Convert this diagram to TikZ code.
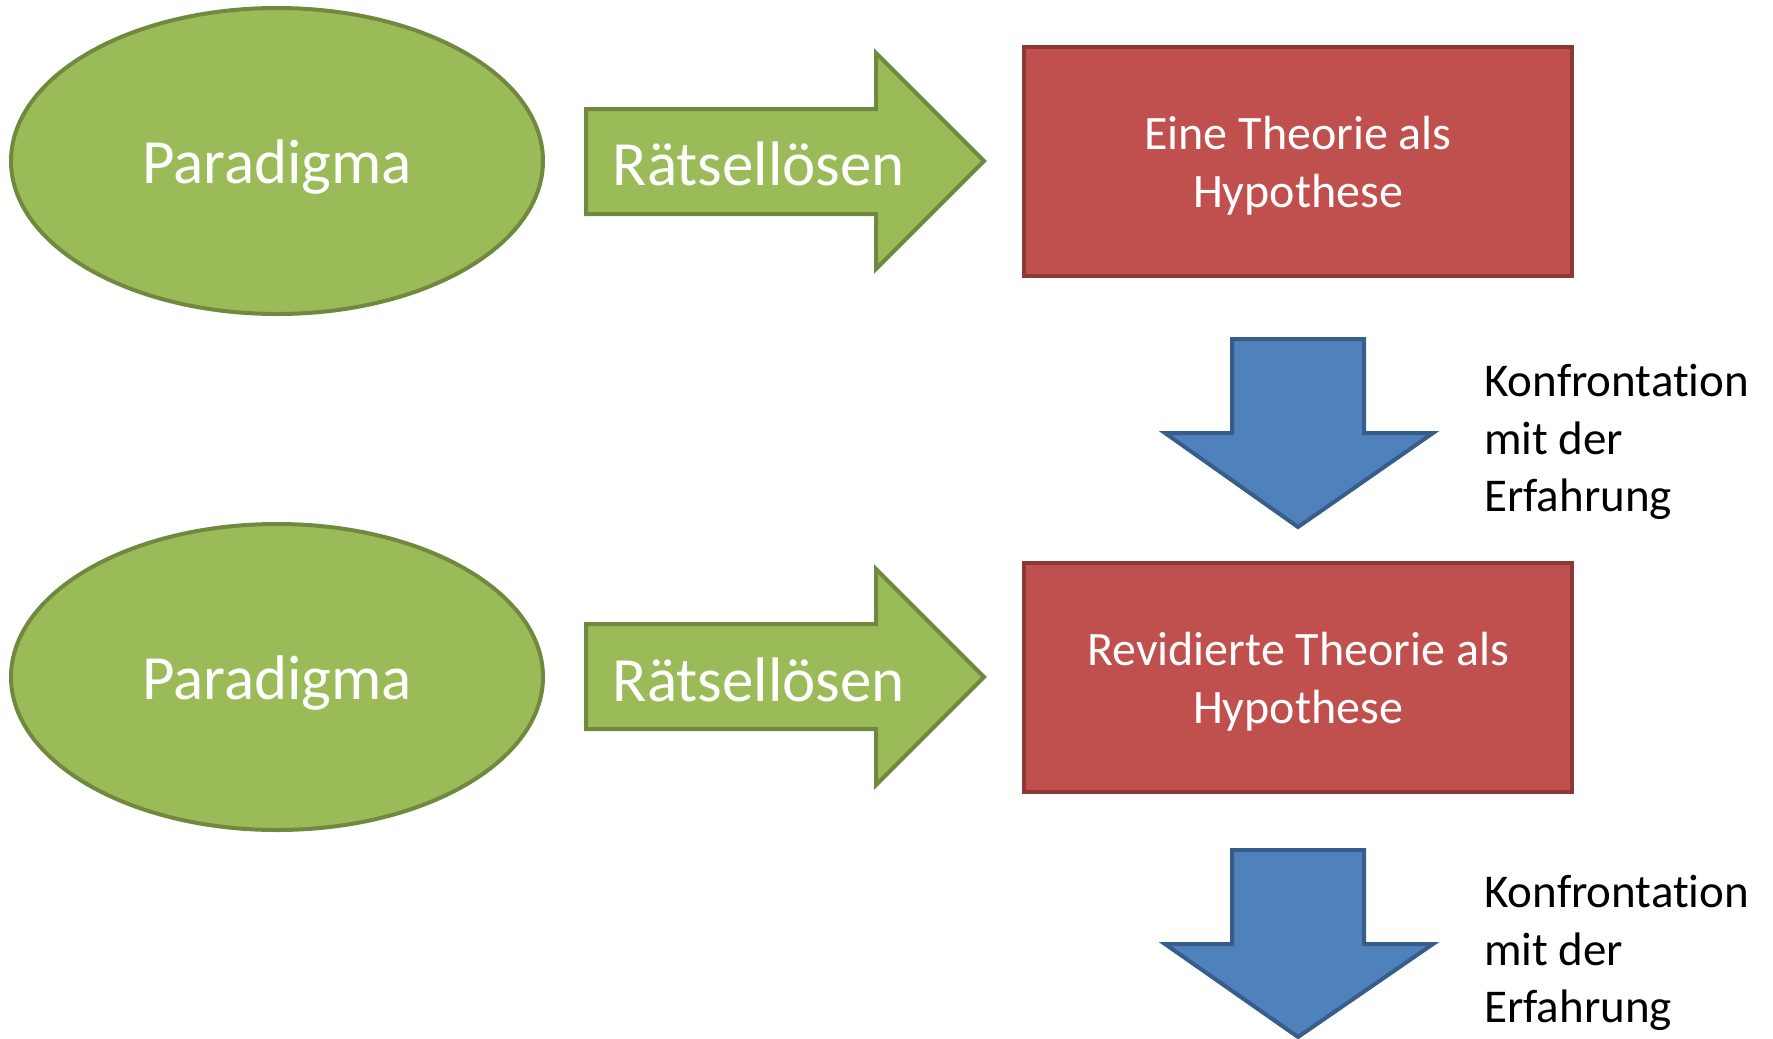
\documentclass[tikz,border=0pt]{standalone}
\usepackage{fontspec}
\setmainfont{Carlito}[Ligatures=NoCommon, RawFeature={-calt}]
\usetikzlibrary{shapes.geometric}
\definecolor{gfill}{HTML}{9BBB59}
\definecolor{gline}{HTML}{71893F}
\definecolor{rfill}{HTML}{C0504D}
\definecolor{rline}{HTML}{8C3836}
\definecolor{bfill}{HTML}{4F81BD}
\definecolor{bline}{HTML}{385D8A}
\tikzset{
  paradigm/.style={ellipse, draw=gline, fill=gfill, line width=4pt,
    minimum width=532pt, minimum height=306pt, inner sep=0pt},
  bigtext/.style={text=white, font=\fontsize{63}{75}\selectfont, inner sep=0pt},
  greenarrow/.style={draw=gline, fill=gfill, line width=4pt, line join=miter},
  bluearrow/.style={draw=bline, fill=bfill, line width=4pt, line join=miter},
  theorybox/.style={rectangle, draw=rline, fill=rfill, line width=4pt,
    minimum width=548pt, minimum height=229pt, inner sep=0pt},
  theorytext/.style={align=center, inner sep=0pt, text=white,
    font=\fontsize{48}{58}\selectfont},
  sidenote/.style={anchor=west, align=left, inner sep=0pt,
    font=\fontsize{47}{57.5}\selectfont}
}
\begin{document}
\begin{tikzpicture}[x=1pt,y=-1pt]
\useasboundingbox (0,0) rectangle (1773,1039);

% upper row
\node[paradigm] (par1) at (277,161) {};
\node[bigtext] (par1t) at (277,167) {Paradigma};
\draw[greenarrow] (586,109) -- (876,109) -- (876,53) -- (984,161)
  -- (876,269) -- (876,214) -- (586,214) -- cycle;
\node[bigtext] (loes1) at (759,164) {Rätsellösen};
\node[theorybox] (theo1) at (1298,161) {};
\node[theorytext] (theo1t) at (1298,166) {Eine Theorie als\\Hypothese};

% first confrontation
\draw[bluearrow] (1232,339) -- (1364,339) -- (1364,433) -- (1433,433)
  -- (1298,527) -- (1165,433) -- (1232,433) -- cycle;
\node[sidenote] (konf1) at (1484,442) {Konfrontation\\mit der\\Erfahrung};

% lower row
\node[paradigm] (par2) at (277,677) {};
\node[bigtext] (par2t) at (277,683) {Paradigma};
\draw[greenarrow] (586,624) -- (876,624) -- (876,569) -- (984,677)
  -- (876,785) -- (876,729) -- (586,729) -- cycle;
\node[bigtext] (loes2) at (759,680) {Rätsellösen};
\node[theorybox] (theo2) at (1298,677) {};
\node[theorytext] (theo2t) at (1298,682) {Revidierte Theorie als\\Hypothese};

% second confrontation
\draw[bluearrow] (1232,850) -- (1364,850) -- (1364,944) -- (1433,944)
  -- (1298,1037) -- (1165,944) -- (1232,944) -- cycle;
\node[sidenote] (konf2) at (1484,953) {Konfrontation\\mit der\\Erfahrung};
\end{tikzpicture}
\end{document}
